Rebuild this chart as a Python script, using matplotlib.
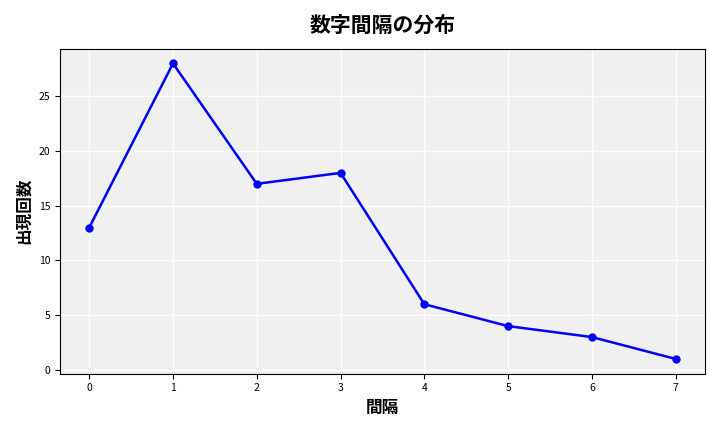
import matplotlib
matplotlib.use('Agg')
from matplotlib import pyplot as plt

plt.rcParams['font.family'] = ['Noto Sans CJK JP', 'DejaVu Sans']

gaps = [0, 1, 2, 3, 4, 5, 6, 7]
counts = [13, 28, 17, 18, 6, 4, 3, 1]

fig, ax = plt.subplots(figsize=(7.2, 4.32), dpi=100)
ax.set_facecolor('#f0f0f0')
ax.plot(gaps, counts, color='blue', marker='o', linewidth=1.8, markersize=5)
ax.grid(True, color='white', linewidth=1)
ax.set_axisbelow(True)
ax.set_title('数字間隔の分布', fontsize=15, fontweight='bold', pad=12)
ax.set_xlabel('間隔', fontsize=12, fontweight='bold')
ax.set_ylabel('出現回数', fontsize=12, fontweight='bold')
ax.tick_params(labelsize=7.5)
ax.set_xticks(gaps)
fig.tight_layout()
fig.savefig('out.png')
plt.close()
